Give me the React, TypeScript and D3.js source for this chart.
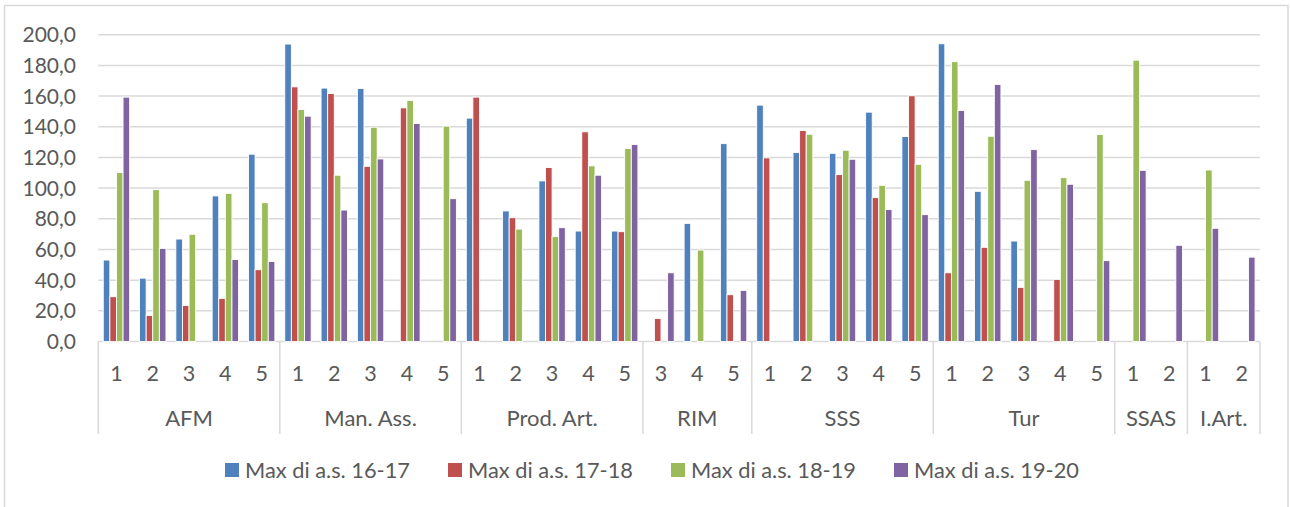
import React from "react";
import * as d3 from "d3";

const groups = ["AFM", "Man. Ass.", "Prod. Art.", "RIM", "SSS", "Tur", "SSAS", "I.Art."];
const groupItems: string[][] = [
  ["1", "2", "3", "4", "5"],
  ["1", "2", "3", "4", "5"],
  ["1", "2", "3", "4", "5"],
  ["3", "4", "5"],
  ["1", "2", "3", "4", "5"],
  ["1", "2", "3", "4", "5"],
  ["1", "2"],
  ["1", "2"],
];

const seriesNames = ["Max di a.s. 16-17", "Max di a.s. 17-18", "Max di a.s. 18-19", "Max di a.s. 19-20"];
const seriesColors = ["#4F81BD", "#C0504D", "#9BBB59", "#8064A2"];

const s1617: (number | null)[] = [
  53.1, 41.3, 66.8, 94.9, 122.1,
  193.9, 165.2, 164.9, null, null,
  145.6, 85.1, 104.7, 72.0, 72.0,
  null, 77.0, 129.0,
  154.1, 123.2, 122.7, 149.5, 133.6,
  194.1, 97.9, 65.5, null, null,
  null, null,
  null, null,
];
const s1718: (number | null)[] = [
  29.2, 17.0, 23.5, 28.1, 46.8,
  166.0, 161.7, 114.2, 152.3, null,
  159.3, 80.7, 113.4, 136.7, 71.6,
  15.0, null, 30.5,
  119.7, 137.5, 108.8, 93.8, 160.2,
  44.8, 61.4, 35.3, 40.5, null,
  null, null,
  null, null,
];
const s1819: (number | null)[] = [
  110.1, 99.0, 69.9, 96.6, 90.5,
  151.2, 108.4, 139.7, 157.1, 140.4,
  null, 73.3, 68.5, 114.5, 125.8,
  null, 59.6, null,
  null, 135.1, 124.7, 101.8, 115.5,
  182.4, 133.8, 105.1, 106.8, 134.9,
  183.4, null,
  111.8, null,
];
const s1920: (number | null)[] = [
  159.3, 60.7, null, 53.5, 52.2,
  146.9, 85.7, 119.0, 142.1, 93.1,
  null, null, 74.2, 108.4, 128.4,
  44.8, null, 33.3,
  null, null, 118.8, 86.0, 82.7,
  150.6, 167.6, 125.1, 102.5, 52.7,
  111.6, 62.7,
  73.8, 55.0,
];
const seriesData = [s1617, s1718, s1819, s1920];
const yTicks = [0, 20, 40, 60, 80, 100, 120, 140, 160, 180, 200];

const W = 1290;
const H = 507;
const FONT = "Lato, 'Open Sans', sans-serif";
const TEXT = "#595959";
const GRID = "#D9D9D9";

export default function App() {
  const left = 98.3;
  const right = 1260;
  const y0 = 341.5;
  const yTop = 34.7;

  const cats: { g: number; label: string; idx: number }[] = [];
  groupItems.forEach((items, g) => items.forEach((label) => cats.push({ g, label, idx: cats.length })));

  const x = d3.scaleBand<number>().domain(cats.map((c) => c.idx)).range([left, right]).paddingInner(0).paddingOuter(0);
  const inner = d3.scaleBand<number>().domain([0, 1, 2, 3]).range([0, x.bandwidth()]).paddingInner(0).paddingOuter(0.75);
  const y = d3.scaleLinear().domain([0, 200]).range([y0, yTop]);
  const fmt = (v: number) => d3.format(".1f")(v).replace(".", ",");

  const bounds: number[] = [];
  let acc = 0;
  const groupSpans: { start: number; end: number }[] = [];
  groupItems.forEach((items) => {
    const start = x(acc)!;
    acc += items.length;
    const end = acc < cats.length ? x(acc)! : right;
    groupSpans.push({ start, end });
    bounds.push(start);
  });
  bounds.push(right);

  const legendX0 = 225;
  const legendStep = 223;
  const legendY = 470;

  return (
    <div style={{ position: "fixed", left: 0, top: 0 }}>
      <svg width={W} height={H} style={{ display: "block", background: "#fff" }}>
        <rect x={4.5} y={5.5} width={1283.5} height={H + 10} fill="#fff" stroke={GRID} strokeWidth={1.5} />
        {yTicks.map((t) => (
          <g key={t}>
            <line x1={left} x2={right} y1={y(t)} y2={y(t)} stroke={GRID} strokeWidth={1.5} />
            <text x={76} y={y(t)} dy="0.36em" textAnchor="end" fontFamily={FONT} fontSize={21} fill={TEXT}>
              {fmt(t)}
            </text>
          </g>
        ))}
        {bounds.map((b, i) => (
          <line key={i} x1={b} x2={b} y1={y0} y2={434} stroke={GRID} strokeWidth={1.5} />
        ))}
        {seriesData.map((data, s) =>
          data.map((v, i) =>
            v == null ? null : (
              <rect
                key={`${s}-${i}`}
                x={x(i)! + inner(s)!}
                y={y(v)}
                width={inner.bandwidth()}
                height={y0 - y(v)}
                fill={seriesColors[s]}
                stroke="#fff"
                strokeWidth={0.9}
              />
            )
          )
        )}
        {cats.map((c) => (
          <text
            key={c.idx}
            x={x(c.idx)! + x.bandwidth() / 2}
            y={373}
            dy="0.36em"
            textAnchor="middle"
            fontFamily={FONT}
            fontSize={21.5}
            fill={TEXT}
          >
            {c.label}
          </text>
        ))}
        {groups.map((g, i) => (
          <text
            key={g}
            x={(groupSpans[i].start + groupSpans[i].end) / 2}
            y={418}
            dy="0.36em"
            textAnchor="middle"
            fontFamily={FONT}
            fontSize={22}
            fill={TEXT}
          >
            {g}
          </text>
        ))}
        {seriesNames.map((n, i) => (
          <g key={n} transform={`translate(${legendX0 + i * legendStep},${legendY})`}>
            <rect x={0} y={-7} width={14} height={14} fill={seriesColors[i]} />
            <text x={20} y={0} dy="0.36em" fontFamily={FONT} fontSize={21.8} fill={TEXT}>
              {n}
            </text>
          </g>
        ))}
      </svg>
    </div>
  );
}
